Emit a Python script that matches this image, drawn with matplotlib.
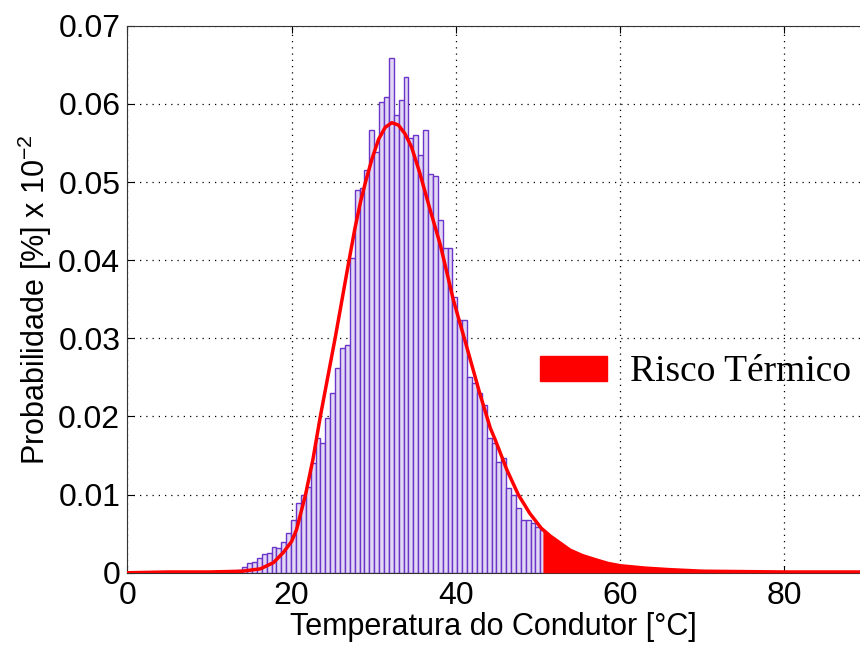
import numpy as np
import matplotlib
matplotlib.use("Agg")
import matplotlib.pyplot as plt
from matplotlib.patches import Patch

# histogram of conductor temperature (bars)
bin_start = 13.4
bin_width = 0.595
hist_vals = [
    0.0004, 0.0008, 0.0013, 0.0014, 0.0019, 0.0024, 0.0025, 0.0033, 0.0032, 0.0040,
    0.0051, 0.0068, 0.0089, 0.0100, 0.0110, 0.0141, 0.0173, 0.0166, 0.0198, 0.0230,
    0.0262, 0.0288, 0.0292, 0.0403, 0.0490, 0.0493, 0.0516, 0.0567, 0.0539, 0.0603,
    0.0609, 0.0659, 0.0586, 0.0605, 0.0635, 0.0557, 0.0560, 0.0535, 0.0567, 0.0510,
    0.0508, 0.0452, 0.0416, 0.0415, 0.0353, 0.0324, 0.0324, 0.0251, 0.0243, 0.0230,
    0.0215, 0.0173, 0.0166, 0.0142, 0.0147, 0.0109, 0.0100, 0.0083, 0.0068, 0.0068,
    0.0064, 0.0058, 0.0055,
]

# fitted density curve
curve_t = [0, 5, 10, 14, 16.2, 17.8, 19.0, 20.0, 20.6, 21.7, 22.6, 23.5, 24.4, 25.3,
           26.1, 27.0, 27.7, 28.4, 29.0, 29.8, 30.6, 31.4, 32.2, 33.0, 33.8, 34.6,
           35.6, 36.8, 38.1, 39.7, 41.3, 42.9, 44.2, 44.8, 46.2, 47.6, 49.0, 50.4,
           51.5, 52.7, 53.9, 55.4, 56.9, 58.5, 60, 63, 66, 70, 80, 90]
curve_p = [0.0, 0.0001, 0.0001, 0.0002, 0.0005, 0.0013, 0.0026, 0.0040, 0.0055, 0.0100,
           0.0145, 0.0200, 0.0250, 0.0300, 0.0347, 0.0400, 0.0440, 0.0475, 0.0500,
           0.0530, 0.0555, 0.0570, 0.0576, 0.0573, 0.0562, 0.0545, 0.0512, 0.0467,
           0.0420, 0.0349, 0.0290, 0.0230, 0.0185, 0.0170, 0.0132, 0.0100, 0.0076,
           0.0057, 0.0047, 0.0038, 0.0029, 0.0022, 0.0017, 0.0012, 0.0009, 0.0006,
           0.0004, 0.0002, 0.0001, 0.0001]
risk_limit = 50.6

fig = plt.figure(figsize=(8.6, 6.45), dpi=100)
ax = fig.add_axes([0.148, 0.112, 0.852, 0.848])

lefts = bin_start + bin_width * np.arange(len(hist_vals))
ax.bar(lefts, hist_vals, width=bin_width, align="edge", color="#e2d8f6",
       edgecolor="#6a35c8", linewidth=1.0, zorder=2)

ct = np.array(curve_t)
cp = np.array(curve_p)
mask = ct >= risk_limit
ft = np.concatenate([[risk_limit], ct[mask]])
fp = np.concatenate([[np.interp(risk_limit, ct, cp)], cp[mask]])
ax.fill_between(ft, 0, fp, color="red", linewidth=0, zorder=3)
ax.plot(ct, cp, color="red", linewidth=2.5, zorder=4)

ax.set_xlim(0, 89.2)
ax.set_ylim(0, 0.07)
ax.set_xticks([0, 20, 40, 60, 80])
ax.set_yticks(np.arange(0, 0.0701, 0.01))
ax.set_yticklabels(["0", "0.01", "0.02", "0.03", "0.04", "0.05", "0.06", "0.07"])
ax.grid(True, linestyle=(0, (1, 4)), color="black", linewidth=0.9, zorder=1)
ax.set_axisbelow(True)
ax.tick_params(direction="in", labelsize=23, length=5, top=True)
ax.tick_params(axis="x", pad=6)
ax.tick_params(axis="y", pad=5)
ax.spines["right"].set_visible(False)
for sp in ["left", "bottom", "top"]:
    ax.spines[sp].set_color("#333333")

for lab in ax.get_xticklabels() + ax.get_yticklabels():
    lab.set_family("Liberation Sans")

ax.set_xlabel("Temperatura do Condutor [°C]", fontsize=22, family="Liberation Sans", labelpad=1)
ax.set_ylabel(r"Probabilidade [%] x 10$^{\mathregular{-2}}$", fontsize=22,
              family="Liberation Sans", labelpad=3)

leg = ax.legend(handles=[Patch(color="red", label="Risco Térmico")],
                loc="center left", bbox_to_anchor=(0.563, 0.367), frameon=False,
                prop={"family": "Liberation Serif", "size": 27},
                handlelength=1.8, handleheight=0.65, handletextpad=0.6,
                borderpad=0, borderaxespad=0)

fig.savefig("out.png", dpi=100)
